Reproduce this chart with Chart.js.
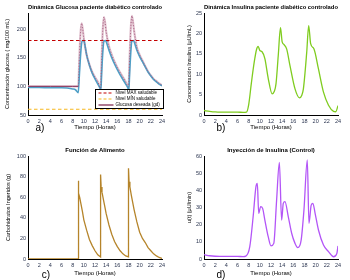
<!DOCTYPE html>
<html>
<head>
<meta charset="utf-8">
<script src="https://cdn.jsdelivr.net/npm/chart.js@4.4.1/dist/chart.umd.min.js"></script>
<style>
  html, body { margin: 0; padding: 0; background: #fff; }
  #wrap { position: relative; width: 350px; height: 280px; }
  #wrap canvas { position: absolute; }
</style>
</head>
<body>
<div id="wrap">
  <canvas id="panelA" width="175" height="140" style="left:0;top:0"></canvas>
  <canvas id="panelB" width="175" height="140" style="left:175px;top:0"></canvas>
  <canvas id="panelC" width="175" height="140" style="left:0;top:140px"></canvas>
  <canvas id="panelD" width="175" height="140" style="left:175px;top:140px"></canvas>
</div>
<script>
// eje horizontal comun
const hourTicks = [0, 2, 4, 6, 8, 10, 12, 14, 16, 18, 20, 22, 24];

// a) glucosa
const glucoseTicks = [50, 100, 150, 200];
const levelTimes = [0, 24];
const maxLevel = [180, 180];
const minLevel = [60, 60];
const gdTimes = [0, 4, 8, 9.0, 9.2, 9.4, 9.6, 9.8, 10.0, 10.5, 11.0, 11.5, 12.0, 12.5, 13.0,
  13.2, 13.4, 13.6, 13.8, 14.0, 14.5, 15.0, 15.5, 16.0, 16.5, 17.0, 17.5, 18.0,
  18.2, 18.4, 18.6, 18.8, 19.0, 19.5, 20.0, 20.5, 21.0, 21.5, 22.0, 22.5, 23.0, 23.5, 24];
const gdValues = [100, 100, 100, 100, 150, 192, 210, 200, 183, 155, 138, 125, 116, 108, 97,
  150, 200, 221, 212, 195, 170, 155, 143, 133, 124, 116, 108, 99,
  150, 200, 223, 213, 197, 168, 155, 145, 135, 126, 119, 113, 109, 105, 102];
const glucoseTimes = [0, 2, 4, 6, 7, 8, 8.5, 9.0, 9.2, 9.4, 9.6, 9.8, 10.0, 10.2, 10.5, 11.0, 11.5,
  12.0, 12.5, 12.9, 13.05, 13.2, 13.4, 13.6, 13.9, 14.2, 14.5, 15.0, 15.5, 16.0, 16.5, 17.0, 17.5,
  17.9, 18.05, 18.2, 18.4, 18.6, 18.9, 19.2, 19.5, 20.0, 20.5, 21.0, 21.5, 22.0, 22.5, 23.0, 23.5, 24];
const glucoseValues = [98, 98, 97.5, 97.5, 97, 95.5, 94, 89, 120, 152, 175, 180, 180, 172, 155, 137, 123,
  113, 104, 97, 93, 125, 160, 179, 180, 172, 163, 150, 139, 129, 120, 112, 104,
  97, 92, 122, 158, 179, 180, 172, 163, 152, 143, 134, 125, 118, 112, 108, 104, 101];

// b) insulina
const insulinTicks = [0, 5, 10, 15, 20, 25];
const insulinTimes = [0, 1, 2, 3, 4, 5, 6, 7, 7.6, 8.0, 8.5, 9.0, 9.4, 9.7, 10.0, 10.4, 10.9, 11.5,
  12.2, 12.6, 12.9, 13.3, 13.7, 14.0, 14.3, 14.8, 15.4, 16.3, 17.1, 17.5, 17.8, 18.4, 18.75,
  19.1, 19.7, 20.5, 21.4, 22.3, 23.2, 23.6, 24];
const insulinValues = [1.1, 0.9, 0.75, 0.7, 0.7, 0.7, 0.7, 0.65, 0.7, 2.5, 8, 13, 16, 16.8, 15.8, 15.5, 13.8, 9,
  5.2, 5.8, 7.7, 14.6, 21.4, 17.9, 17.3, 16.2, 12.1, 6.4, 4.2, 4.8, 6.4, 15.4, 21.9,
  17.5, 16.2, 11.3, 5.6, 2.4, 0.9, 0.8, 2.3];

// c) alimento
const foodTicks = [0, 20, 40, 60, 80, 100];
const foodTimes = [0, 9, 9, 9.1, 9.25, 9.5, 9.75, 10, 10.5, 11, 11.5, 12, 12.5, 13,
  13, 13.1, 13.25, 13.5, 13.75, 14, 14.5, 15, 15.5, 16, 16.5, 17, 17.5, 18,
  18, 18.1, 18.25, 18.5, 18.75, 19, 19.5, 20, 20.5, 21, 21.5, 22, 22.5, 23, 23.5, 24];
const foodValues = [0, 0, 76, 64, 60, 53, 46, 38, 28, 19, 13, 8, 4, 2,
  82, 70, 65, 58, 51, 44, 33, 24, 17, 12, 8, 5, 3, 2,
  88, 75, 70, 62, 55, 48, 36, 26, 20, 16, 11, 8, 5, 3, 1.5, 0.5];

// d) control
const controlTicks = [0, 10, 20, 30, 40, 50, 60];
const controlTimes = [0, 1, 2, 4, 6, 7, 7.5, 8.2, 8.8, 9.3, 9.55, 9.8, 10.15, 10.5, 10.9, 11.5, 12.0,
  12.5, 13.0, 13.5, 13.9, 14.2, 14.5, 15.1, 15.7, 16.3, 16.8, 17.4, 17.9, 18.5, 18.8, 19.2,
  19.5, 19.9, 20.5, 21.4, 22.3, 23.2, 23.8, 24];
const controlValues = [2.5, 1.9, 1.6, 1.5, 1.5, 1.4, 1.7, 7.2, 24.6, 42, 44, 26.6, 30.5, 29.5, 22.7, 13, 7.6,
  9.1, 34, 56.3, 22.7, 32.4, 33.4, 24.6, 15, 9.1, 6.6, 11, 28.5, 57.7, 20.8, 31.4,
  32.4, 26.6, 16.9, 8.2, 4.3, 1.3, 3.3, 7.6];

const FONT = "'Liberation Sans', Arial, sans-serif";
const TICK_COLOR = "#2b3550";

const xy = (ts, vs) => ts.map((t, i) => ({ x: t, y: vs[i] }));
const fixedTicks = (list) => (scale) => { scale.ticks = list.map((v) => ({ value: v })); };

// letra del panel y leyenda interna (solo panel a)
const extrasPlugin = (p) => ({
  id: "extras",
  afterDraw(chart) {
    const ctx = chart.ctx;
    ctx.save();
    ctx.fillStyle = "#000";
    ctx.font = "10px " + FONT;
    ctx.textAlign = "center";
    ctx.textBaseline = "middle";
    ctx.fillText(p.letter, p.letterAt[0], p.letterAt[1]);

    if (p.legendBox) {
      const [bx, by, bw, bh] = p.legendBox;
      ctx.fillStyle = "#fff";
      ctx.fillRect(bx, by, bw, bh);
      ctx.strokeStyle = "#000";
      ctx.lineWidth = 1;
      ctx.strokeRect(bx, by, bw, bh);
      const items = chart.data.datasets.filter((d) => d.inLegend);
      items.forEach((d, i) => {
        const y = by + 3.5 + i * 6;
        ctx.strokeStyle = d.legendColor || d.borderColor;
        ctx.lineWidth = 1.2;
        ctx.setLineDash(d.legendDash || []);
        ctx.beginPath();
        ctx.moveTo(bx + 3, y);
        ctx.lineTo(bx + 18, y);
        ctx.stroke();
        ctx.setLineDash([]);
        ctx.fillStyle = "#000";
        ctx.font = "4.5px " + FONT;
        ctx.textAlign = "left";
        ctx.fillText(d.label, bx + 20, y);
      });
    }
    ctx.restore();
  },
});

function makePanel(id, p) {
  const canvas = document.getElementById(id);
  const W = canvas.width;
  const H = canvas.height;
  return new Chart(canvas.getContext("2d"), {
    type: "line",
    data: { datasets: p.datasets },
    options: {
      responsive: false,
      animation: false,
      devicePixelRatio: 1,
      layout: { padding: { left: 0, right: W - p.area.right, top: 0, bottom: 0 } },
      plugins: {
        legend: { display: false },
        tooltip: { enabled: false },
        title: {
          display: true,
          text: p.title,
          fullSize: false,
          color: "#000",
          font: { family: FONT, size: 6, weight: "bold" },
          padding: { top: p.area.top - 9.6, bottom: 2.4 },
        },
      },
      elements: { point: { radius: 0 }, line: { borderWidth: 1.3 } },
      scales: {
        x: {
          type: "linear",
          min: 0,
          max: 24,
          afterBuildTicks: fixedTicks(hourTicks),
          afterFit: (s) => { s.height = H - p.area.bottom; },
          grid: { display: false, drawTicks: false },
          border: { display: true, color: "#000", width: 1 },
          ticks: { font: { family: FONT, size: 5.5 }, color: TICK_COLOR, padding: 3, maxRotation: 0, autoSkip: false },
          title: {
            display: true,
            text: "Tiempo (Horas)",
            color: "#000",
            font: { family: FONT, size: 6 },
            padding: { top: 0, bottom: p.xTitlePad },
          },
        },
        y: {
          type: "linear",
          min: p.yMin,
          max: p.yMax,
          afterBuildTicks: fixedTicks(p.yTicks),
          afterFit: (s) => { s.width = p.area.left; },
          grid: { display: false, drawTicks: false },
          border: { display: true, color: "#000", width: 1 },
          ticks: { font: { family: FONT, size: 5.5 }, color: TICK_COLOR, padding: 2 },
          title: {
            display: true,
            text: p.yTitle,
            color: "#000",
            font: { family: FONT, size: 5.5 },
            padding: { top: p.yTitlePad, bottom: 0 },
          },
        },
      },
    },
    plugins: [extrasPlugin(p)],
  });
}

makePanel("panelA", {
  title: "Dinámica Glucosa paciente diabético controlado",
  yTitle: "Concentración glucosa ( mg/100 mL)",
  area: { left: 28, right: 162, top: 13, bottom: 115 },
  yMin: 50, yMax: 228, yTicks: glucoseTicks,
  xTitlePad: 8.7, yTitlePad: 4.2,
  letter: "a)", letterAt: [40, 128],
  legendBox: [95.5, 89.5, 68, 19],
  datasets: [
    { label: "Nivel MÁX saludable", data: xy(levelTimes, maxLevel), borderColor: "#c40000",
      borderWidth: 1.2, borderDash: [3.5, 2.5], inLegend: true, legendDash: [3, 2], order: 0 },
    { label: "Nivel MÍN saludable", data: xy(levelTimes, minLevel), borderColor: "#f6b820",
      borderWidth: 1.2, borderDash: [3.5, 2.5], inLegend: true, legendDash: [3, 2], order: 0 },
    { label: "Glucosa deseada (gd)", data: xy(gdTimes, gdValues), borderColor: "#7a1f48",
      borderWidth: 0.9, cubicInterpolationMode: "monotone", inLegend: true, order: 1,
      segment: {
        borderDash: (c) => (c.p0.parsed.x >= 9 ? [1, 1.8] : undefined),
        borderColor: (c) => (c.p0.parsed.x >= 9 ? "#a0587a" : undefined),
      } },
    { label: "Glucosa", data: xy(glucoseTimes, glucoseValues), borderColor: "#4f9fc6",
      borderWidth: 1.6, cubicInterpolationMode: "monotone", order: 2 },
    { label: "gd (fondo)", data: xy(gdTimes, gdValues), borderColor: "#e0bfcd",
      borderWidth: 2.2, cubicInterpolationMode: "monotone", order: 3 },
  ],
});

makePanel("panelB", {
  title: "Dinámica Insulina paciente diabético controlado",
  yTitle: "Concentración Insulina (μU/mL)",
  area: { left: 29, right: 163, top: 13, bottom: 115 },
  yMin: 0, yMax: 25, yTicks: insulinTicks,
  xTitlePad: 8.7, yTitlePad: 11.2,
  letter: "b)", letterAt: [46, 128],
  datasets: [
    { label: "Insulina", data: xy(insulinTimes, insulinValues), borderColor: "#7fcc1f",
      cubicInterpolationMode: "monotone" },
  ],
});

makePanel("panelC", {
  title: "Función de Alimento",
  yTitle: "Carbohidratos Ingeridos (g)",
  area: { left: 28, right: 162, top: 16, bottom: 119 },
  yMin: 0, yMax: 100, yTicks: foodTicks,
  xTitlePad: 3.1, yTitlePad: 4.7,
  letter: "c)", letterAt: [46, 135],
  datasets: [
    { label: "Alimento", data: xy(foodTimes, foodValues), borderColor: "#b5842a", tension: 0 },
  ],
});

makePanel("panelD", {
  title: "Inyección de Insulina (Control)",
  yTitle: "u(t) (μU/min)",
  area: { left: 29, right: 163, top: 16, bottom: 119 },
  yMin: 0, yMax: 60, yTicks: controlTicks,
  xTitlePad: 3.1, yTitlePad: 11.2,
  letter: "d)", letterAt: [46, 135],
  datasets: [
    { label: "u(t)", data: xy(controlTimes, controlValues), borderColor: "#b355f7",
      cubicInterpolationMode: "monotone" },
  ],
});
</script>
</body>
</html>
